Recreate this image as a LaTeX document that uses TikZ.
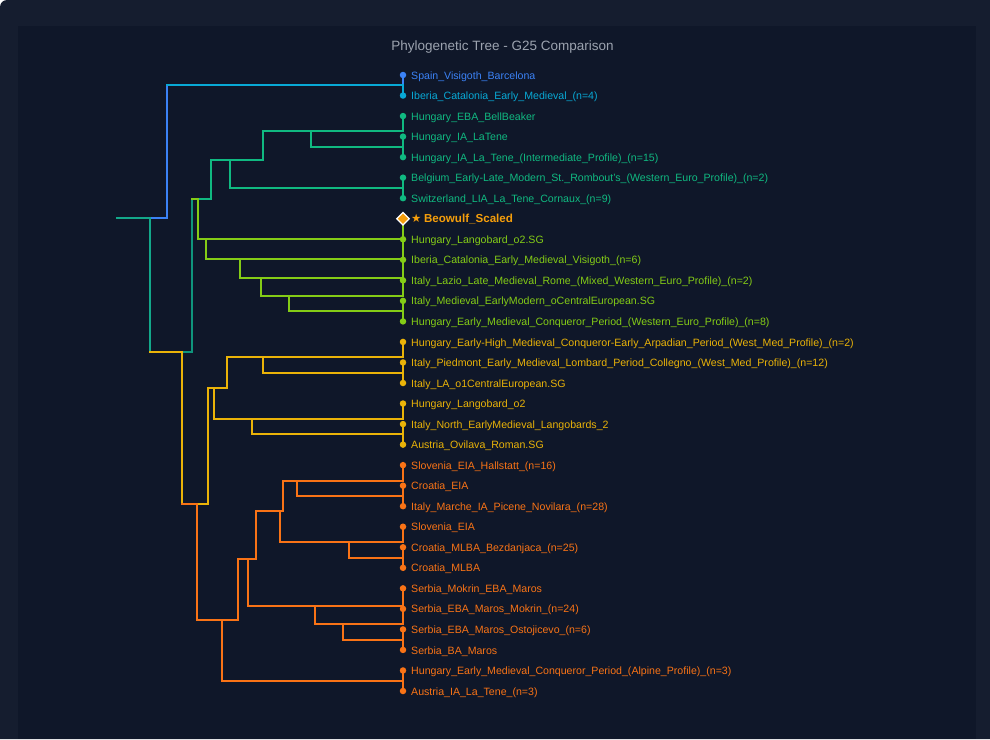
\documentclass[tikz,border=0pt]{standalone}
\usepackage{fontspec}
\setmainfont{Liberation Sans}
\newfontfamily\symfont{DejaVu Sans}
\usetikzlibrary{shapes.geometric}
\definecolor{outerbg}{HTML}{151D2F}
\definecolor{panelbg}{HTML}{0F1729}
\definecolor{titlegray}{HTML}{9CA3AF}
\definecolor{cblue}{HTML}{3B82F6}
\definecolor{ccyan}{HTML}{08A9D6}
\definecolor{cgreen}{HTML}{10B981}
\definecolor{cteal}{HTML}{13A88A}
\definecolor{cteald}{HTML}{0F957C}
\definecolor{clime}{HTML}{84CC16}
\definecolor{cyellow}{HTML}{EAB308}
\definecolor{corange}{HTML}{F97316}
\definecolor{camber}{HTML}{F59E0B}
\begin{document}
\begin{tikzpicture}[x=1pt,y=-1pt,
  link/.style={line width=2pt, line cap=rect},
  leafdot/.style={circle, fill, inner sep=0pt, minimum size=6.5pt},
  lbl/.style={anchor=base west, inner sep=0pt, font=\fontsize{10.6}{12}\selectfont},
  beolbl/.style={anchor=base west, inner sep=0pt, font=\fontsize{11.6}{13}\selectfont\bfseries, text=camber},
  beodia/.style={diamond, fill=camber, draw=white, line width=1.3pt, inner sep=0pt, minimum size=13pt}]
\useasboundingbox (0,0) rectangle (990,739);
\fill[white] (0,0) rectangle (990,739);
\fill[outerbg] (0,739) [rounded corners=7pt] -- (0,0) [sharp corners] -- (990,0) -- (990,739) -- cycle;
\fill[panelbg] (18,26) rectangle (976,739);
\node[anchor=base, inner sep=0pt, font=\fontsize{13.5}{15}\selectfont, text=titlegray] (title) at (502.5,50) {Phylogenetic Tree - G25 Comparison};

% leaves
\foreach \i/\yy in {0/75.00,1/95.53,2/116.07,3/136.60,4/157.13,5/177.67,6/198.20,7/218.73,8/239.27,9/259.80,10/280.33,11/300.87,12/321.40,13/341.93,14/362.47,15/383.00,16/403.53,17/424.07,18/444.60,19/465.13,20/485.67,21/506.20,22/526.73,23/547.27,24/567.80,25/588.33,26/608.87,27/629.40,28/649.93,29/670.47,30/691.00}
  {\coordinate (l\i) at (403,\yy);}

% internal nodes
\coordinate (root) at (117,218.41);
\coordinate (R1) at (167,85.27);
\coordinate (R2) at (150,351.56);
\coordinate (T) at (192,199.17);
\coordinate (G) at (211,159.70);
\coordinate (P1) at (262.7,131.47);
\coordinate (A) at (310.7,146.87);
\coordinate (D) at (230,187.93);
\coordinate (X4) at (198.3,238.63);
\coordinate (X3) at (206,258.52);
\coordinate (X2) at (240,277.77);
\coordinate (X1) at (260.7,295.73);
\coordinate (PL) at (289,311.13);
\coordinate (Y) at (182.3,503.95);
\coordinate (Y5) at (207.7,388.13);
\coordinate (Y2) at (226.7,357.33);
\coordinate (Y1) at (262.7,372.73);
\coordinate (Y4) at (214,418.93);
\coordinate (Y3) at (252,434.33);
\coordinate (O) at (196.7,619.77);
\coordinate (O1) at (237.7,558.82);
\coordinate (O3) at (255.7,511.33);
\coordinate (O5) at (283,480.53);
\coordinate (O7) at (297,495.93);
\coordinate (O6) at (279.7,542.13);
\coordinate (O8) at (349,557.53);
\coordinate (O4) at (247.7,606.30);
\coordinate (O10) at (314.7,624.27);
\coordinate (O9) at (342.7,639.67);
\coordinate (O2) at (222.3,680.73);

% links
\draw[link, cblue] (root) -| (R1);
\draw[link, cteal] (root) -| (R2);
\draw[link, cblue] (R1) -| (l0);
\draw[link, ccyan] (R1) -| (l1);
\draw[link, cteald] (R2) -| (T);
\draw[link, cyellow] (R2) -| (Y);
% green
\draw[link, cgreen] (T) -| (G);
\draw[link, clime] (T) -| (X4);
\draw[link, cgreen] (G) -| (P1);
\draw[link, cgreen] (G) -| (D);
\draw[link, cgreen] (P1) -| (l2);
\draw[link, cgreen] (P1) -| (A);
\draw[link, cgreen] (A) -| (l3);
\draw[link, cgreen] (A) -| (l4);
\draw[link, cgreen] (D) -| (l5);
\draw[link, cgreen] (D) -| (l6);
% lime
\draw[link, clime] (X4) -| (l7);
\draw[link, clime] (X4) -| (X3);
\draw[link, clime] (X3) -| (l8);
\draw[link, clime] (X3) -| (X2);
\draw[link, clime] (X2) -| (l9);
\draw[link, clime] (X2) -| (X1);
\draw[link, clime] (X1) -| (l10);
\draw[link, clime] (X1) -| (PL);
\draw[link, clime] (PL) -| (l11);
\draw[link, clime] (PL) -| (l12);
% yellow
\draw[link, cyellow] (Y) -| (Y5);
\draw[link, corange] (Y) -| (O);
\draw[link, cyellow] (Y5) -| (Y2);
\draw[link, cyellow] (Y5) -| (Y4);
\draw[link, cyellow] (Y2) -| (l13);
\draw[link, cyellow] (Y2) -| (Y1);
\draw[link, cyellow] (Y1) -| (l14);
\draw[link, cyellow] (Y1) -| (l15);
\draw[link, cyellow] (Y4) -| (l16);
\draw[link, cyellow] (Y4) -| (Y3);
\draw[link, cyellow] (Y3) -| (l17);
\draw[link, cyellow] (Y3) -| (l18);
% orange
\draw[link, corange] (O) -| (O1);
\draw[link, corange] (O) -| (O2);
\draw[link, corange] (O1) -| (O3);
\draw[link, corange] (O1) -| (O4);
\draw[link, corange] (O3) -| (O5);
\draw[link, corange] (O3) -| (O6);
\draw[link, corange] (O5) -| (l19);
\draw[link, corange] (O5) -| (O7);
\draw[link, corange] (O7) -| (l20);
\draw[link, corange] (O7) -| (l21);
\draw[link, corange] (O6) -| (l22);
\draw[link, corange] (O6) -| (O8);
\draw[link, corange] (O8) -| (l23);
\draw[link, corange] (O8) -| (l24);
\draw[link, corange] (O4) -| (l25);
\draw[link, corange] (O4) -| (O10);
\draw[link, corange] (O10) -| (l26);
\draw[link, corange] (O10) -| (O9);
\draw[link, corange] (O9) -| (l27);
\draw[link, corange] (O9) -| (l28);
\draw[link, corange] (O2) -| (l29);
\draw[link, corange] (O2) -| (l30);

% dots and labels
\foreach \i/\c/\t in {
 0/cblue/Spain\_Visigoth\_Barcelona,
 1/ccyan/Iberia\_Catalonia\_Early\_Medieval\_(n=4),
 2/cgreen/Hungary\_EBA\_BellBeaker,
 3/cgreen/Hungary\_IA\_LaTene,
 4/cgreen/Hungary\_IA\_La\_Tene\_(Intermediate\_Profile)\_(n=15),
 5/cgreen/Belgium\_Early-Late\_Modern\_St.\_Rombout's\_(Western\_Euro\_Profile)\_(n=2),
 6/cgreen/Switzerland\_LIA\_La\_Tene\_Cornaux\_(n=9),
 8/clime/Hungary\_Langobard\_o2.SG,
 9/clime/Iberia\_Catalonia\_Early\_Medieval\_Visigoth\_(n=6),
 10/clime/Italy\_Lazio\_Late\_Medieval\_Rome\_(Mixed\_Western\_Euro\_Profile)\_(n=2),
 11/clime/Italy\_Medieval\_EarlyModern\_oCentralEuropean.SG,
 12/clime/Hungary\_Early\_Medieval\_Conqueror\_Period\_(Western\_Euro\_Profile)\_(n=8),
 13/cyellow/Hungary\_Early-High\_Medieval\_Conqueror-Early\_Arpadian\_Period\_(West\_Med\_Profile)\_(n=2),
 14/cyellow/Italy\_Piedmont\_Early\_Medieval\_Lombard\_Period\_Collegno\_(West\_Med\_Profile)\_(n=12),
 15/cyellow/Italy\_LA\_o1CentralEuropean.SG,
 16/cyellow/Hungary\_Langobard\_o2,
 17/cyellow/Italy\_North\_EarlyMedieval\_Langobards\_2,
 18/cyellow/Austria\_Ovilava\_Roman.SG,
 19/corange/Slovenia\_EIA\_Hallstatt\_(n=16),
 20/corange/Croatia\_EIA,
 21/corange/Italy\_Marche\_IA\_Picene\_Novilara\_(n=28),
 22/corange/Slovenia\_EIA,
 23/corange/Croatia\_MLBA\_Bezdanjaca\_(n=25),
 24/corange/Croatia\_MLBA,
 25/corange/Serbia\_Mokrin\_EBA\_Maros,
 26/corange/Serbia\_EBA\_Maros\_Mokrin\_(n=24),
 27/corange/Serbia\_EBA\_Maros\_Ostojicevo\_(n=6),
 28/corange/Serbia\_BA\_Maros,
 29/corange/Hungary\_Early\_Medieval\_Conqueror\_Period\_(Alpine\_Profile)\_(n=3),
 30/corange/Austria\_IA\_La\_Tene\_(n=3)}
{
  \node[leafdot, \c] (d\i) at (l\i) {};
  \node[lbl, text=\c] (t\i) at ([xshift=8pt,yshift=-4.1pt]l\i) {\t};
}
\node[beodia] (d7) at (l7) {};
\node[beolbl] (t7) at ([xshift=8pt,yshift=-3.8pt]l7) {{\symfont\fontsize{11.5}{13}\selectfont ★}\hspace{2.5pt}Beowulf\_Scaled};
\end{tikzpicture}
\end{document}
